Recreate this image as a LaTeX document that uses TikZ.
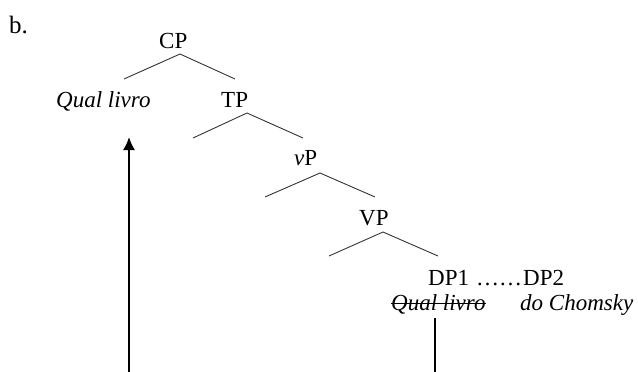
\documentclass[tikz,border=0pt]{standalone}
\usepackage{fontspec}
\setmainfont{Liberation Serif}
\usetikzlibrary{arrows.meta}
\begin{document}
\begin{tikzpicture}[x=1pt,y=-1pt,
  lbl/.style={inner sep=0pt,anchor=base west,font=\fontsize{23}{28}\selectfont},
  branch/.style={line width=0.9pt,black!80},
  trace/.style={line width=1.8pt,black}]
\useasboundingbox (0,0) rectangle (638,372);

% labels
\node[lbl,font=\fontsize{25}{30}\selectfont] (b) at (9,33) {b.};
\node[lbl] (cp)   at (159,48)  {CP};
\node[lbl] (qual) at (56,107)  {\itshape Qual livro};
\node[lbl] (tp)   at (221,107) {TP};
\node[lbl] (vp)   at (294,165) {\itshape v\upshape P};
\node[lbl] (VP)   at (359,225) {VP};
\node[lbl] (dp1)  at (428,285) {DP1};
\node[lbl] (dots) at (476,285) {……};
\node[lbl] (dp2)  at (523,285) {DP2};
\node[lbl] (qs)   at (391,310) {\itshape Qual livro};
\node[lbl] (chom) at (520,310) {\itshape do Chomsky};

% branching points
\coordinate (cpA) at (180,54);  \coordinate (cpL) at (124,79);  \coordinate (cpR) at (235,79);
\coordinate (tpA) at (247,113); \coordinate (tpL) at (193,138); \coordinate (tpR) at (303,138);
\coordinate (vpA) at (320,173); \coordinate (vpL) at (265,197); \coordinate (vpR) at (375,197);
\coordinate (VPA) at (383,232); \coordinate (VPL) at (329,256); \coordinate (VPR) at (438,256);

\draw[branch] (cpL) -- (cpA) -- (cpR);
\draw[branch] (tpL) -- (tpA) -- (tpR);
\draw[branch] (vpL) -- (vpA) -- (vpR);
\draw[branch] (VPL) -- (VPA) -- (VPR);

% struck-out copy
\draw[line width=0.8pt] ([yshift=7pt]qs.base west) -- ([yshift=7pt]qs.base east);

% movement
\coordinate (foot1) at (129,372);
\coordinate (head1) at (129,137);
\draw[trace,-{Latex[length=13pt,width=12pt]}] (foot1) -- (head1);
\coordinate (top2)  at (435,318);
\coordinate (foot2) at (435,372);
\draw[trace] (top2) -- (foot2);
\end{tikzpicture}
\end{document}
